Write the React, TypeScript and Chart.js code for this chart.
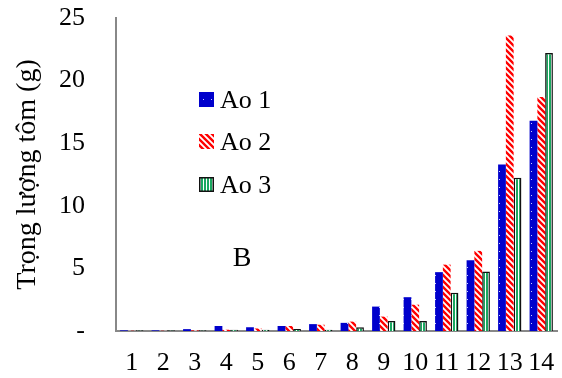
import React, { useEffect, useRef } from "react";
import { Chart, registerables } from "chart.js";

Chart.register(...registerables);

const categories = ["1", "2", "3", "4", "5", "6", "7", "8", "9", "10", "11", "12", "13", "14"];
const seriesNames = ["Ao 1", "Ao 2", "Ao 3"];
const ao1 = [0.05, 0.05, 0.15, 0.4, 0.3, 0.4, 0.55, 0.65, 1.95, 2.7, 4.7, 5.65, 13.3, 16.8];
const ao2 = [0.02, 0.02, 0.05, 0.1, 0.2, 0.4, 0.5, 0.75, 1.15, 2.1, 5.3, 6.4, 23.6, 18.7];
const ao3 = [0.05, 0.05, 0.05, 0.1, 0.1, 0.15, 0.1, 0.3, 0.8, 0.8, 3.05, 4.75, 12.25, 22.2];
const yTicks = [0, 5, 10, 15, 20, 25];
const panelLabel = "B";
const yTitle = "Trọng lượng tôm (g)";

const FONT = '"Liberation Serif", "Times New Roman", Times, serif';

function makePattern(kind: string): CanvasPattern | string {
  const c = document.createElement("canvas");
  const x = c.getContext("2d");
  if (!x) return "#000";
  if (kind === "dots") {
    c.width = 8; c.height = 8;
    x.fillStyle = "#0000CC"; x.fillRect(0, 0, 8, 8);
    x.fillStyle = "#C8D0FF"; x.fillRect(3, 3, 1, 1);
  } else if (kind === "diag") {
    c.width = 6; c.height = 6;
    x.fillStyle = "#ffffff"; x.fillRect(0, 0, 6, 6);
    x.strokeStyle = "#FF0000"; x.lineWidth = 2.4;
    x.beginPath();
    x.moveTo(-1, -1); x.lineTo(7, 7);
    x.moveTo(-4, 2); x.lineTo(4, 10);
    x.moveTo(2, -4); x.lineTo(10, 4);
    x.stroke();
  } else {
    c.width = 3; c.height = 3;
    x.fillStyle = "#ffffff"; x.fillRect(0, 0, 3, 3);
    x.fillStyle = "#1AA860"; x.fillRect(0, 0, 2, 3);
  }
  return x.createPattern(c, "repeat") || "#000";
}

const overlayPlugin = {
  id: "overlay",
  afterDraw(chart: any) {
    const ctx = chart.ctx;
    ctx.save();
    ctx.font = `26px ${FONT}`;
    ctx.fillStyle = "#000";
    ctx.textBaseline = "middle";
    const rows = [100, 142, 185];
    chart.data.datasets.forEach((ds: any, i: number) => {
      const y = rows[i];
      ctx.fillStyle = ds.backgroundColor;
      ctx.fillRect(199, y - 8, 15, 15);
      if (ds.borderWidth) {
        ctx.strokeStyle = ds.borderColor;
        ctx.lineWidth = 1.5;
        ctx.strokeRect(199.75, y - 7.25, 13.5, 13.5);
      }
      ctx.fillStyle = "#000";
      ctx.textAlign = "left";
      ctx.fillText(ds.label, 220, y + 1);
    });
    ctx.font = `28px ${FONT}`;
    ctx.textAlign = "center";
    ctx.fillText(panelLabel, 242, 259);
    ctx.restore();
  },
};

export default function App() {
  const ref = useRef<HTMLCanvasElement>(null);
  useEffect(() => {
    if (!ref.current) return;
    const fills = [makePattern("dots"), makePattern("diag"), makePattern("vert")];
    const values = [ao1, ao2, ao3];
    const chart = new Chart(ref.current, {
      type: "bar",
      data: {
        labels: categories,
        datasets: seriesNames.map((name, i) => ({
          label: name,
          data: values[i],
          backgroundColor: fills[i] as any,
          borderColor: i === 2 ? "#111111" : "rgba(0,0,0,0)",
          borderWidth: i === 2 ? 1.5 : 0,
          categoryPercentage: 0.74,
          barPercentage: 1,
        })),
      },
      options: {
        responsive: false,
        animation: false,
        layout: { padding: { top: 18, right: 5, left: 0, bottom: 0 } },
        plugins: { legend: { display: false }, tooltip: { enabled: false } },
        scales: {
          x: {
            grid: { display: false, drawTicks: false },
            border: { display: true, color: "#888888", width: 2 },
            ticks: { color: "#000", font: { family: FONT, size: 26 }, padding: 17, maxRotation: 0, autoSkip: false },
            afterFit: (s: any) => { s.height = 47; s.paddingLeft = 0; s.paddingRight = 0; },
          },
          y: {
            min: 0,
            max: 25,
            grid: { display: false, drawTicks: false },
            border: { display: true, color: "#888888", width: 2 },
            afterBuildTicks: (s: any) => { s.ticks = yTicks.map((v) => ({ value: v })); },
            ticks: {
              color: "#000",
              font: { family: FONT, size: 26 },
              padding: 31,
              callback: (v: any) => (Number(v) === 0 ? "-" : String(v)),
            },
            title: {
              display: true,
              text: yTitle,
              color: "#000",
              font: { family: FONT, size: 28 },
              padding: { top: 11, bottom: 0 },
            },
            afterFit: (s: any) => { s.width = 116; s.paddingTop = 0; s.paddingBottom = 0; },
          },
        },
      },
      plugins: [overlayPlugin],
    });
    let alive = true;
    if ((document as any).fonts && (document as any).fonts.load) {
      (document as any).fonts.load('26px "Liberation Serif"').then(() => {
        if (alive) chart.update();
      }).catch(() => {});
    }
    return () => { alive = false; chart.destroy(); };
  }, []);
  return (
    <div style={{ position: "fixed", left: 0, top: 0, width: 562, height: 378, background: "#fff" }}>
      <canvas ref={ref} width={562} height={378} />
    </div>
  );
}
